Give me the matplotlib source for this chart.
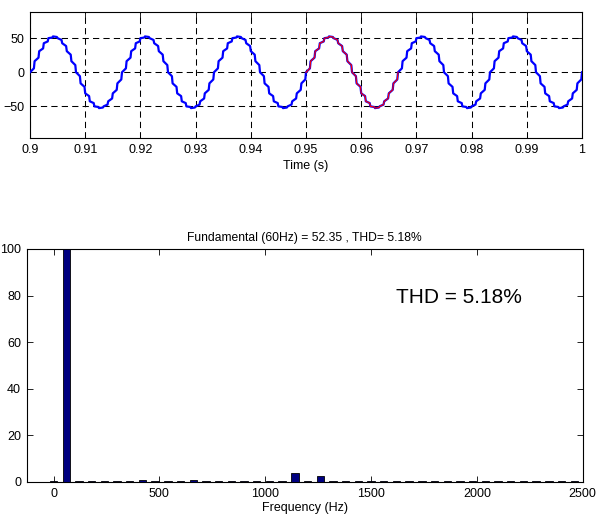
import numpy as np
import matplotlib
matplotlib.use("Agg")
import matplotlib.pyplot as plt

plt.rcParams['font.family'] = ['Liberation Sans', 'DejaVu Sans']

# ---------------- data ----------------
time_start = 0.90
time_end = 1.00
n_cycles = 6
steps_per_cycle = 20
fft_window = (0.95, 0.95 + 1 / 60)

# one period of the stepped waveform: value at start and end of each tread
tread_start = [0.0, 16.2, 30.8, 42.4, 49.8, 52.35, 49.8, 42.4, 30.8, 16.2,
               0.0, -16.2, -30.8, -42.4, -49.8, -52.35, -49.8, -42.4, -30.8, -16.2]
tread_end = [5.7, 21.3, 34.8, 45.0, 50.7, 51.5, 47.2, 38.3, 25.7, 10.5,
             -5.7, -21.3, -34.8, -45.0, -50.7, -51.5, -47.2, -38.3, -25.7, -10.5]

time_ticks = [0.9, 0.91, 0.92, 0.93, 0.94, 0.95, 0.96, 0.97, 0.98, 0.99, 1.0]
time_ticklabels = ['0.9', '0.91', '0.92', '0.93', '0.94', '0.95', '0.96', '0.97', '0.98', '0.99', '1']
amp_ticks = [-50, 0, 50]

harmonic_freqs = [60 * h for h in range(42)]
harmonic_mag = [0.3, 100, 0.4, 0.4, 0.4, 0.4, 0.4, 0.7, 0.4, 0.6,
                0.4, 0.9, 0.4, 0.6, 0.4, 0.4, 0.4, 0.4, 0.4, 3.9,
                0.4, 2.6, 0.4, 0.4, 0.4, 0.4, 0.4, 0.5, 0.4, 0.6,
                0.4, 0.5, 0.4, 0.4, 0.4, 0.4, 0.4, 0.4, 0.4, 0.6,
                0.4, 0.4]
freq_ticks = [0, 500, 1000, 1500, 2000, 2500]
pct_ticks = [0, 20, 40, 60, 80, 100]

title_text = 'Fundamental (60Hz) = 52.35 , THD= 5.18%'
thd_text = 'THD = 5.18%'

# ---------------- build waveform polyline ----------------
Ts = (time_end - time_start) / (n_cycles * steps_per_cycle)
tread_frac = 0.85
t_pts, v_pts = [], []
for c in range(n_cycles):
    for k in range(steps_per_cycle):
        t0 = time_start + (c * steps_per_cycle + k) * Ts
        t_pts += [t0, t0 + tread_frac * Ts]
        v_pts += [tread_start[k], tread_end[k]]
t_pts.append(time_end)
v_pts.append(tread_start[0])
t_pts = np.array(t_pts)
v_pts = np.array(v_pts)

# ---------------- figure ----------------
fig = plt.figure(figsize=(5.98, 5.15), dpi=100)

ax1 = fig.add_axes([30 / 598, 1 - 138 / 515, 552 / 598, 126 / 515])
ax1.plot(t_pts, v_pts, color=(0, 0, 1), lw=1.6, zorder=3)
m = (t_pts >= fft_window[0] - 1e-9) & (t_pts <= fft_window[1] + 1e-9)
ax1.plot(t_pts[m], v_pts[m], color=(1, 0, 0), lw=0.8, zorder=4)
ax1.set_xlim(time_start, time_end)
ax1.set_ylim(-96, 88)
ax1.set_xticks(time_ticks)
ax1.set_xticklabels(time_ticklabels)
ax1.set_yticks(amp_ticks)
ax1.grid(True, color='black', lw=0.75, ls=(0, (6, 4)))
ax1.set_xlabel('Time (s)', fontsize=9, labelpad=3)

ax2 = fig.add_axes([26.7 / 598, 1 - 482 / 515, 556 / 598, 233 / 515])
ax2.bar(harmonic_freqs, harmonic_mag, width=35, color=(0, 0, 0.5),
        edgecolor='black', linewidth=0.6, zorder=3)
ax2.set_xlim(-127, 2500)
ax2.set_ylim(0, 100)
ax2.set_xticks(freq_ticks)
ax2.set_yticks(pct_ticks)
ax2.set_xlabel('Frequency (Hz)', fontsize=9, labelpad=2)
ax2.set_title(title_text, fontsize=8.7, pad=6)
ax2.text(1620, 79, thd_text, fontsize=15, ha='left', va='center')

for ax in (ax1, ax2):
    ax.tick_params(direction='in', length=4, width=0.6, labelsize=9,
                   top=True, right=True, pad=4)
    for sp in ax.spines.values():
        sp.set_linewidth(0.8)
        sp.set_color('black')

fig.savefig('out.png', dpi=100)
